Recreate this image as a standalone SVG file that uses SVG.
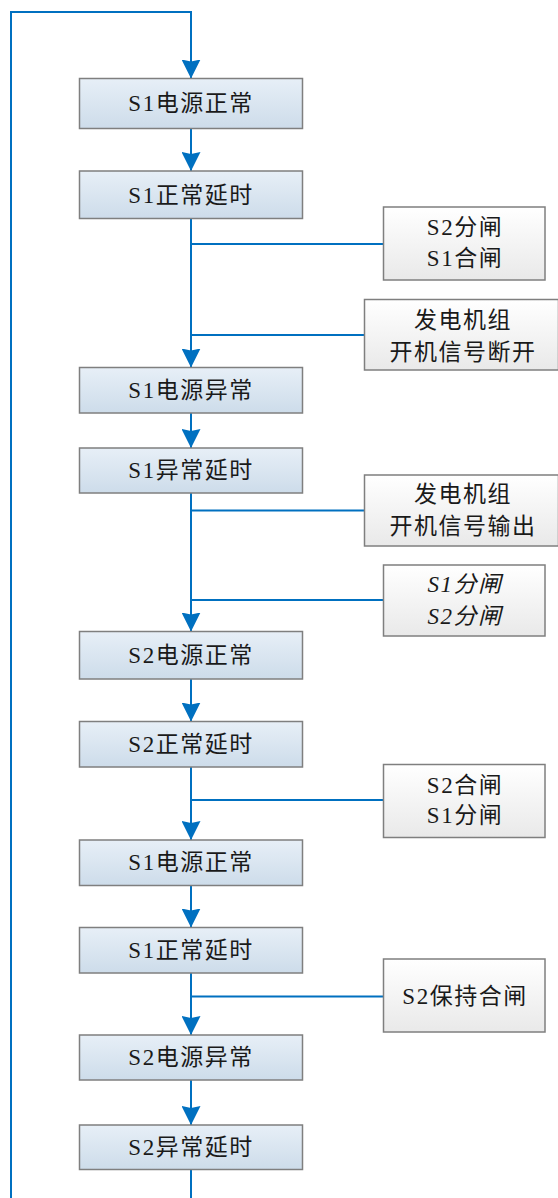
<svg xmlns="http://www.w3.org/2000/svg" width="558" height="1198" viewBox="0 0 558 1198">
<style>
.main rect{fill:url(#gMain);stroke:#7f7f7f;stroke-width:1.5}
.side rect{fill:url(#gSide);stroke:#7f7f7f;stroke-width:1.5}
text{font-family:"Liberation Serif","Noto Sans CJK SC",serif;font-size:23px;fill:#1a1a1a;text-anchor:middle;dominant-baseline:central;letter-spacing:1.5px}
.it{font-style:italic}
#connectors path{fill:none;stroke:#0070C0;stroke-width:2}
.arr{marker-end:url(#ah)}
</style>
<defs>
<linearGradient id="gMain" x1="0" y1="0" x2="0" y2="1">
<stop offset="0" stop-color="#e7eff7"/>
<stop offset="1" stop-color="#cddcea"/>
</linearGradient>
<linearGradient id="gSide" x1="0" y1="0" x2="0" y2="1">
<stop offset="0" stop-color="#ffffff"/>
<stop offset="1" stop-color="#e9e9e9"/>
</linearGradient>
<marker id="ah" markerUnits="userSpaceOnUse" markerWidth="19" markerHeight="19" viewBox="0 0 19 19" refX="19" refY="9.5" orient="auto">
<path d="M0,0 L19,9.5 L0,19 L2,9.5 Z" fill="#0070C0"/>
</marker>
</defs>
<rect width="558" height="1198" fill="#ffffff"/>
<g id="connectors">
<path class="arr" d="M191,1169.5 V1215 H11 V12 H191 V78.5"/>
<path class="arr" d="M191,128.5 V171"/>
<path class="arr" d="M191,218.5 V367.5"/>
<path class="arr" d="M191,413 V448"/>
<path class="arr" d="M191,493 V631.5"/>
<path class="arr" d="M191,679 V721.5"/>
<path class="arr" d="M191,767 V840"/>
<path class="arr" d="M191,885.5 V927.5"/>
<path class="arr" d="M191,973 V1035"/>
<path class="arr" d="M191,1080 V1125"/>
<path d="M191,244 H383.5"/>
<path d="M191,335 H364.5"/>
<path d="M191,510.5 H364.5"/>
<path d="M191,600 H383.5"/>
<path d="M191,800 H383.5"/>
<path d="M191,996.5 H383.5"/>
</g>
<g id="n1" class="main"><rect x="79.5" y="78.5" width="223" height="50"/><text x="191" y="103.5">S1电源正常</text></g>
<g id="n2" class="main"><rect x="79.5" y="171" width="223" height="47.5"/><text x="191" y="195">S1正常延时</text></g>
<g id="n3" class="main"><rect x="79.5" y="367.5" width="223" height="45.5"/><text x="191" y="390">S1电源异常</text></g>
<g id="n4" class="main"><rect x="79.5" y="448" width="223" height="45"/><text x="191" y="470.5">S1异常延时</text></g>
<g id="n5" class="main"><rect x="79.5" y="631.5" width="223" height="47.5"/><text x="191" y="655">S2电源正常</text></g>
<g id="n6" class="main"><rect x="79.5" y="721.5" width="223" height="45.5"/><text x="191" y="744">S2正常延时</text></g>
<g id="n7" class="main"><rect x="79.5" y="840" width="223" height="45.5"/><text x="191" y="862.5">S1电源正常</text></g>
<g id="n8" class="main"><rect x="79.5" y="927.5" width="223" height="45.5"/><text x="191" y="950">S1正常延时</text></g>
<g id="n9" class="main"><rect x="79.5" y="1035" width="223" height="45"/><text x="191" y="1057.5">S2电源异常</text></g>
<g id="n10" class="main"><rect x="79.5" y="1125" width="223" height="44.5"/><text x="191" y="1147">S2异常延时</text></g>
<g id="s1" class="side"><rect x="383.5" y="207" width="161.5" height="73"/><text x="465" y="227">S2分闸</text><text x="465" y="258">S1合闸</text></g>
<g id="s2" class="side"><rect x="364.5" y="299.5" width="194" height="70.5"/><text x="463" y="320">发电机组</text><text x="463" y="352">开机信号断开</text></g>
<g id="s3" class="side"><rect x="364.5" y="475" width="194" height="71"/><text x="463" y="494">发电机组</text><text x="463" y="526">开机信号输出</text></g>
<g id="s4" class="side"><rect x="383.5" y="565" width="161.5" height="71"/><text class="it" x="465" y="584">S1分闸</text><text class="it" x="465" y="616">S2分闸</text></g>
<g id="s5" class="side"><rect x="383.5" y="764.5" width="161.5" height="73"/><text x="465" y="785">S2合闸</text><text x="465" y="815">S1分闸</text></g>
<g id="s6" class="side"><rect x="383.5" y="959" width="161.5" height="73"/><text x="465" y="996">S2保持合闸</text></g>
</svg>
